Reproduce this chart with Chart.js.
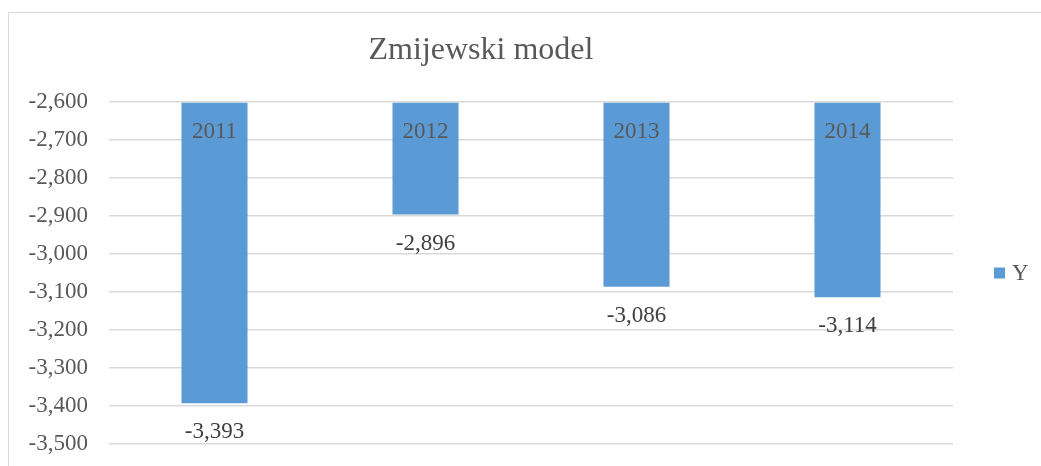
<!DOCTYPE html>
<html>
<head>
<meta charset="utf-8">
<script src="https://cdn.jsdelivr.net/npm/chart.js@4/dist/chart.umd.min.js"></script>
<style>
  html, body { margin: 0; padding: 0; background: #fff; }
  #wrap { width: 1041px; height: 466px; }
</style>
</head>
<body>
<div id="wrap"><canvas id="zmijewski" width="1041" height="466"></canvas></div>
<script>
// Donnees du graphique
const years = ['2011', '2012', '2013', '2014'];
const valuesY = [-3393, -2896, -3086, -3114];
const seriesName = 'Y';
const chartTitle = 'Zmijewski model';
const axisMin = -3500;
const axisMax = -2600;
const axisStep = 100;

const barColor = '#5B9BD5';
const textColor = '#595959';
const gridColor = '#D9D9D9';
const serif = '"Liberation Serif", "Times New Roman", serif';

const fmt = v => v.toLocaleString('en-US');

// Cadre, titre, legende et etiquettes
const decorPlugin = {
    id: 'decor',
    beforeDraw(chart) {
        const ctx = chart.ctx;
        ctx.save();
        ctx.strokeStyle = gridColor;
        ctx.lineWidth = 1;
        ctx.strokeRect(8.5, 12.5, 1200, 600);
        ctx.restore();
    },
    afterDatasetsDraw(chart) {
        const ctx = chart.ctx;
        const area = chart.chartArea;
        ctx.save();
        // titre
        ctx.fillStyle = textColor;
        ctx.font = '32px ' + serif;
        ctx.textAlign = 'center';
        ctx.textBaseline = 'middle';
        ctx.fillText(chartTitle, 481, 51);

        // etiquettes des barres
        ctx.font = '23px ' + serif;
        const meta = chart.getDatasetMeta(0);
        meta.data.forEach((bar, i) => {
            ctx.fillStyle = textColor;
            ctx.fillText(years[i], bar.x, bar.base + 29);
            ctx.fillStyle = '#404040';
            ctx.fillText(fmt(valuesY[i]), bar.x, bar.y + 29);
        });

        // legende
        const ly = (area.top + area.bottom) / 2 - 0.5;
        ctx.fillStyle = barColor;
        ctx.fillRect(994, ly - 5, 11, 11);
        ctx.fillStyle = textColor;
        ctx.textAlign = 'left';
        ctx.fillText(seriesName, 1012, ly + 1);
        ctx.restore();
    }
};

new Chart(document.getElementById('zmijewski'), {
    type: 'bar',
    data: {
        labels: years,
        datasets: [{
            label: seriesName,
            data: valuesY,
            base: axisMax,
            backgroundColor: barColor,
            borderWidth: 0,
            categoryPercentage: 1,
            barPercentage: 0.313
        }]
    },
    options: {
        responsive: false,
        animation: false,
        layout: { padding: { top: 102, bottom: 22, left: 8, right: 88 } },
        plugins: {
            legend: { display: false },
            title: { display: false },
            tooltip: { enabled: false }
        },
        scales: {
            x: { display: false },
            y: {
                min: axisMin,
                max: axisMax,
                afterFit(scale) { scale.width = 101; },
                border: { display: false },
                grid: { color: gridColor, lineWidth: 1.5, drawTicks: true, tickLength: 18, tickColor: 'rgba(0,0,0,0)' },
                ticks: {
                    stepSize: axisStep,
                    padding: 3,
                    color: textColor,
                    font: { family: serif, size: 23 },
                    callback: v => fmt(v)
                }
            }
        }
    },
    plugins: [decorPlugin]
});
</script>
</body>
</html>
